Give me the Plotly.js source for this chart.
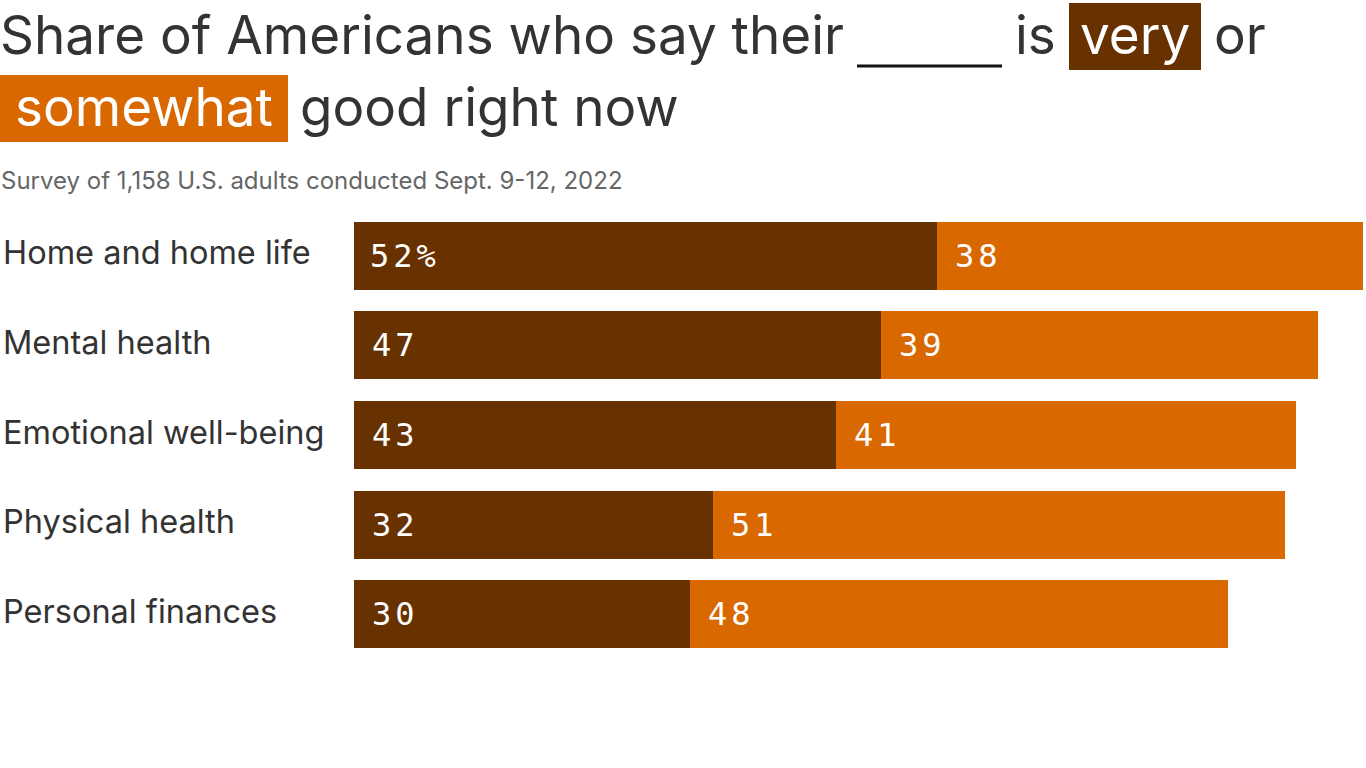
<!DOCTYPE html>
<html>
<head>
<meta charset="utf-8">
<script src="https://cdn.plot.ly/plotly-3.0.1.min.js"></script>
<style>
html,body{margin:0;padding:0;background:#fff;}
#chart{width:1366px;height:768px;}
</style>
</head>
<body>
<div id="chart"></div>
<script>
const categories = ["Home and home life", "Mental health", "Emotional well-being", "Physical health", "Personal finances"];
const veryGood = [52, 47, 43, 32, 30];
const somewhatGood = [38, 39, 41, 51, 48];
const titleText = "Share of Americans who say their";
const subtitleText = "Survey of 1,158 U.S. adults conducted Sept. 9-12, 2022";

const VERY = "#683100";
const SOMEWHAT = "#d96800";
const TEXT = "#333333";

const L = 354, R = 3, T = 211, B = 109, W = 1366, H = 768;
const PW = W - L - R, PH = H - T - B;
const px = x => (x - L) / PW;
const py = y => (H - B - y) / PH;

const traces = [
  {type: "bar", orientation: "h", y: categories, x: veryGood, name: "Very good",
   marker: {color: VERY, line: {width: 0}}, hoverinfo: "skip"},
  {type: "bar", orientation: "h", y: categories, x: somewhatGood, name: "Somewhat good",
   marker: {color: SOMEWHAT, line: {width: 0}}, hoverinfo: "skip"}
];

const FONT = "Inter, 'Noto Sans', sans-serif";
const titleFont = {family: FONT, size: 53, color: TEXT};
const whiteTitle = {family: FONT, size: 53, color: "#ffffff"};
const ann = [];
function tAnn(text, x, y, opts) {
  ann.push(Object.assign({text: text, xref: "paper", yref: "paper", x: px(x), y: py(y),
    xanchor: "left", yanchor: "middle", showarrow: false, font: titleFont}, opts || {}));
}
tAnn(titleText, -2, 35);
tAnn("is", 1013, 35);
tAnn("very", 1135, 35, {xanchor: "center", font: whiteTitle});
tAnn("or", 1212, 35);
tAnn("somewhat", 144, 107, {xanchor: "center", font: whiteTitle});
tAnn("good right now", 298, 107);
tAnn(subtitleText, -1, 181, {font: {family: FONT, size: 24, color: "#666666"}});

const LBL = {family: "'DejaVu Sans Mono', monospace", size: 32, color: "#ffffff"};
categories.forEach((c, i) => {
  ann.push({text: c, xref: "paper", yref: "y", x: px(1), y: c, xanchor: "left", yanchor: "middle",
    yshift: 3, showarrow: false, font: {family: FONT, size: 32.5, color: TEXT}});
  ann.push({text: veryGood[i] + (i === 0 ? "%" : ""), xref: "x", yref: "y", x: 0, y: c,
    xanchor: "left", yanchor: "middle", xshift: 20, yshift: 0, showarrow: false, font: LBL});
  ann.push({text: String(somewhatGood[i]), xref: "x", yref: "y", x: veryGood[i], y: c,
    xanchor: "left", yanchor: "middle", xshift: 20, yshift: 0, showarrow: false, font: LBL});
});

const layout = {
  width: W, height: H,
  margin: {l: L, r: R, t: T, b: B, pad: 0},
  paper_bgcolor: "#ffffff", plot_bgcolor: "#ffffff",
  barmode: "stack", bargap: 0.24, showlegend: false,
  xaxis: {range: [0, 90], visible: false, fixedrange: true},
  yaxis: {autorange: "reversed", showticklabels: false, showgrid: false, zeroline: false, fixedrange: true},
  annotations: ann,
  shapes: [
    {type: "line", xref: "paper", yref: "paper", x0: px(857), x1: px(1002), y0: py(66), y1: py(66),
     line: {color: "#111111", width: 3}},
    {type: "rect", xref: "paper", yref: "paper", x0: px(1069), x1: px(1201), y0: py(3), y1: py(70),
     fillcolor: VERY, line: {width: 0}},
    {type: "rect", xref: "paper", yref: "paper", x0: px(0), x1: px(288), y0: py(75), y1: py(142),
     fillcolor: SOMEWHAT, line: {width: 0}}
  ]
};

Plotly.newPlot("chart", traces, layout, {displayModeBar: false, staticPlot: true}).then(() => {
  document.querySelectorAll(".annotation-text").forEach(t => {
    if (/^\d+%?$/.test(t.textContent)) t.style.letterSpacing = "4px";
  });
});
</script>
</body>
</html>
